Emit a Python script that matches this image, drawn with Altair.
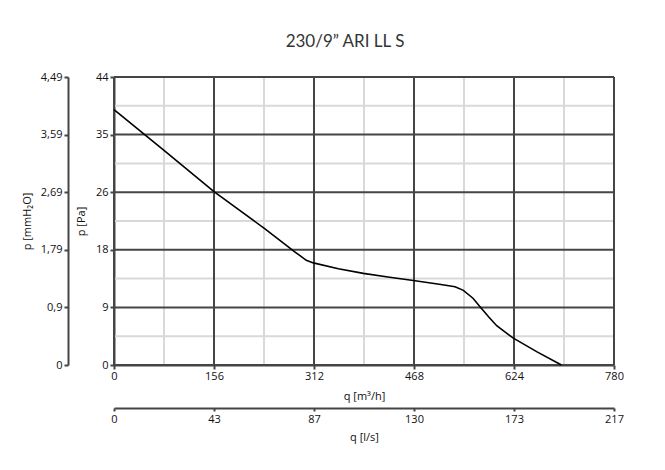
import altair as alt
import pandas as pd

# ---- data ----
q_m3h = [0, 78, 156, 234, 282, 300, 311, 350, 389, 430, 467, 510, 532, 545, 560, 571, 585, 597, 623, 660, 698]
p_pa = [39.0, 32.8, 26.5, 20.9, 17.3, 16.0, 15.6, 14.7, 14.0, 13.4, 12.9, 12.3, 11.96, 11.4, 10.2, 8.9, 7.3, 6.0, 4.1, 2.0, 0.0]

x_major = [0, 156, 312, 468, 624, 780]
x_minor = [78, 234, 390, 546, 702]
x_ls_labels = ["0", "43", "87", "130", "173", "217"]

y_major = [0, 8.8, 17.6, 26.4, 35.2, 44]
y_minor = [4.4, 13.2, 22.0, 30.8, 39.6]
y_pa_labels = ["0", "9", "18", "26", "35", "44"]
y_mm_labels = ["0", "0,9", "1,79", "2,69", "3,59", "4,49"]

title_text = "230/9\u201d ARI LL S"

curve = pd.DataFrame({"q": q_m3h, "p": p_pa})
xmin_df = pd.DataFrame({"v": x_minor})
xmaj_df = pd.DataFrame({"v": x_major})
ymin_df = pd.DataFrame({"v": y_minor})
ymaj_df = pd.DataFrame({"v": y_major})

XS = alt.Scale(domain=[0, 780], nice=False, zero=False)
YS = alt.Scale(domain=[0, 44], nice=False, zero=False)
FONT = "Open Sans"
DARK = "#454545"
LIGHT = "#d9d9d9"


def lab_expr(labels, step):
    arr = "[" + ",".join("'" + s + "'" for s in labels) + "]"
    return arr + "[round(datum.value/" + str(step) + ")]"


common_axis = dict(
    domainColor=DARK, domainWidth=2, tickColor=DARK, tickWidth=2,
    labelFont=FONT, labelFontSize=11, labelColor="#111", labelFlush=False,
    titleFont=FONT, titleFontSize=11, titleColor="#111", titleFontWeight="normal",
    grid=False,
)

minor_v = alt.Chart(xmin_df).mark_rule(color=LIGHT, strokeWidth=2).encode(
    x=alt.X("v:Q", scale=XS, axis=None))
minor_h = alt.Chart(ymin_df).mark_rule(color=LIGHT, strokeWidth=2).encode(
    y=alt.Y("v:Q", scale=YS, axis=None))
major_v = alt.Chart(xmaj_df).mark_rule(color=DARK, strokeWidth=2).encode(
    x=alt.X("v:Q", scale=XS, axis=None))
major_h = alt.Chart(ymaj_df).mark_rule(color=DARK, strokeWidth=2).encode(
    y=alt.Y("v:Q", scale=YS, axis=None))

line = alt.Chart(curve).mark_line(color="black", strokeWidth=1.6).encode(
    x=alt.X("q:Q", scale=XS, axis=alt.Axis(
        orient="bottom", values=x_major, title="q [m\u00b3/h]", tickSize=4,
        labelPadding=1, titlePadding=9, **common_axis)),
    y=alt.Y("p:Q", scale=YS, axis=alt.Axis(
        orient="left", values=y_major, labelExpr=lab_expr(y_pa_labels, 8.8),
        title="p [Pa]", tickSize=4, labelPadding=2, titlePadding=9, **common_axis)),
    order=alt.Order("q:Q"),
)

ghost = alt.Chart(curve).mark_line(opacity=0).encode(
    x=alt.X("q:Q", scale=XS, axis=alt.Axis(
        orient="bottom", offset=43, values=x_major, labelExpr=lab_expr(x_ls_labels, 156),
        title="q [l/s]", tickSize=3, labelPadding=2, titlePadding=7, **common_axis)),
    y=alt.Y("p:Q", scale=YS, axis=alt.Axis(
        orient="left", offset=46, values=y_major, labelExpr=lab_expr(y_mm_labels, 8.8),
        title="p [mmH\u2082O]", tickSize=4, labelPadding=2, titlePadding=8, **common_axis)),
    order=alt.Order("q:Q"),
)

chart = alt.layer(minor_v, minor_h, major_v, major_h, line, ghost).resolve_axis(
    x="independent", y="independent"
).properties(
    width=500, height=288,
    autosize=alt.AutoSizeParams(type="none"),
    padding={"left": 106, "top": 69, "right": 43, "bottom": 90},
    title=alt.TitleParams(title_text, font="Lato", fontSize=17, fontWeight="normal",
                          color="#333", anchor="middle", dx=-19, offset=20),
).configure_view(stroke=None)

chart.save("out.html", embed_options={"renderer": "svg", "actions": False})
